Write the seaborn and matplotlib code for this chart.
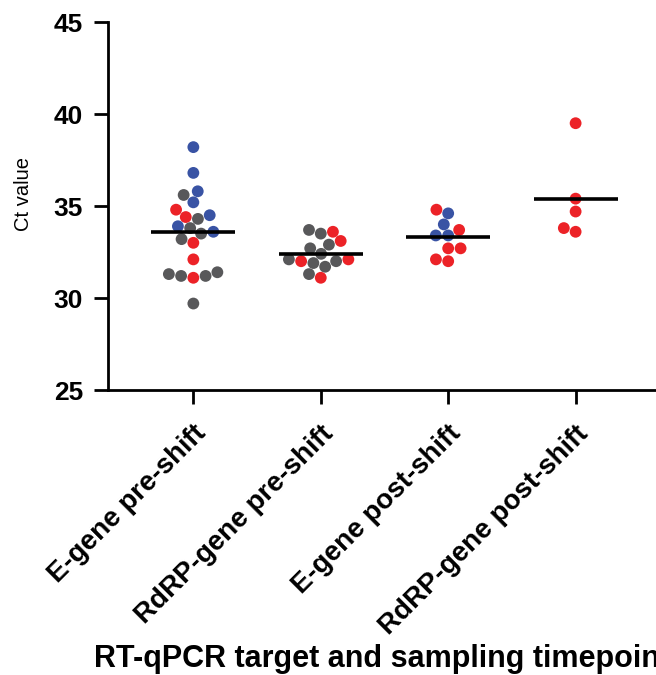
import numpy as np
import pandas as pd
import seaborn as sns
import matplotlib
matplotlib.use("Agg")
import matplotlib.pyplot as plt
import matplotlib.transforms as mtransforms

# Ct values, per group (with sample set A/B/C for colour)
groups = ["E-gene pre-shift", "RdRP-gene pre-shift",
          "E-gene post-shift", "RdRP-gene post-shift"]

e_pre = [38.2, 36.8, 35.8, 35.6, 35.2, 34.8, 34.5, 34.3, 34.4, 33.9, 33.8,
         33.6, 33.5, 33.0, 33.2, 32.1, 31.4, 31.2, 31.3, 31.1, 31.2, 29.7]
e_pre_set = ["A", "A", "A", "C", "A", "B", "A", "C", "B", "A", "C",
             "A", "C", "B", "C", "B", "C", "C", "C", "B", "C", "C"]

rdrp_pre = [33.7, 33.6, 33.5, 33.1, 32.9, 32.7, 32.4, 32.1, 32.1, 32.0,
            32.0, 31.9, 31.7, 31.3, 31.1]
rdrp_pre_set = ["C", "B", "C", "B", "C", "C", "C", "B", "C", "B",
                "C", "C", "C", "C", "B"]

e_post = [34.8, 34.6, 34.0, 33.7, 33.4, 33.4, 32.7, 32.7, 32.1, 32.0]
e_post_set = ["B", "A", "A", "B", "A", "A", "B", "B", "B", "B"]

rdrp_post = [39.5, 35.4, 34.7, 33.8, 33.6]
rdrp_post_set = ["B", "B", "B", "B", "B"]

yticks = [25, 30, 35, 40, 45]

palette = {"A": "#3953a4", "B": "#ec2227", "C": "#58585a"}

rows = []
for g, vals, sets in zip(groups,
                         [e_pre, rdrp_pre, e_post, rdrp_post],
                         [e_pre_set, rdrp_pre_set, e_post_set, rdrp_post_set]):
    for v, s in zip(vals, sets):
        rows.append((g, v, s))
df = pd.DataFrame(rows, columns=["group", "ct", "set"])

sns.set_style("ticks")
plt.rcParams["font.family"] = ["Liberation Sans", "DejaVu Sans"]
plt.rcParams["text.color"] = "black"
plt.rcParams["axes.labelcolor"] = "black"
plt.rcParams["xtick.color"] = "black"
plt.rcParams["ytick.color"] = "black"

fig = plt.figure(figsize=(6.56, 6.75), dpi=100)
ax = fig.add_axes([0.1646, 0.4222, 0.843, 0.5452])

sns.swarmplot(data=df, x="group", y="ct", hue="set", order=groups,
              palette=palette, size=8.5, linewidth=0, legend=False, ax=ax)

# mean line per group
sns.pointplot(data=df, x="group", y="ct", order=groups, estimator="mean",
              errorbar=None, color="black", marker="_", linestyle="none",
              markersize=61, markeredgewidth=2.6, ax=ax, zorder=5)

ax.set_xlim(-0.67, 3.67)
ax.set_ylim(25, 45)
ax.set_yticks(yticks)
ax.set_yticklabels([str(t) for t in yticks], fontsize=19, fontweight="bold")

ax.set_xticks(range(len(groups)))
ax.set_xticklabels(groups, rotation=45, ha="right", va="top",
                   rotation_mode="anchor", fontsize=20, fontweight="bold")
offset = mtransforms.ScaledTranslation(5 / 100, 0, fig.dpi_scale_trans)
for lab in ax.get_xticklabels():
    lab.set_transform(lab.get_transform() + offset)

ax.tick_params(axis="both", width=2, length=10, color="black")
ax.tick_params(axis="y", pad=8)
ax.tick_params(axis="x", pad=12)
for sp in ["left", "bottom"]:
    ax.spines[sp].set_linewidth(2)
    ax.spines[sp].set_color("black")
sns.despine(ax=ax)

ax.set_ylabel("Ct value", fontsize=14.5)
ax.yaxis.set_label_coords(-0.136, 0.533)
ax.set_xlabel("RT-qPCR target and sampling timepoint", fontsize=22,
              fontweight="bold")
ax.xaxis.set_label_coords(0.4955, -0.690)

fig.savefig("out.png", dpi=100)
